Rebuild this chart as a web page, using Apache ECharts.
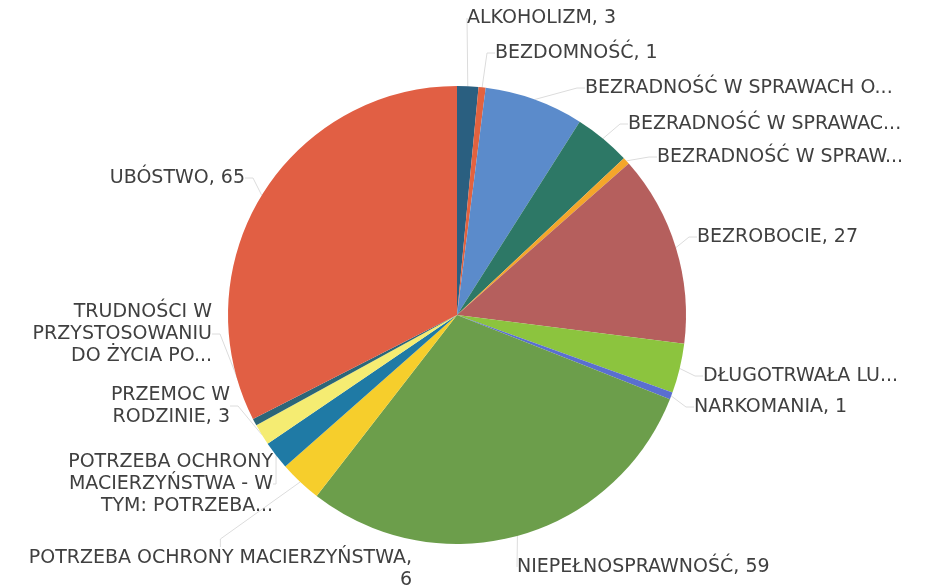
<!DOCTYPE html>
<html>
<head>
<meta charset="utf-8">
<script src="https://cdn.jsdelivr.net/npm/echarts@6/dist/echarts.min.js"></script>
<style>
html,body{margin:0;padding:0;background:#fff}
#main{width:931px;height:587px}
</style>
</head>
<body>
<div id="main"></div>
<script>
// kategorie (tak jak widać na wykresie, obcięte etykiety z "...")
var names = [
	'ALKOHOLIZM',
	'BEZDOMNOŚĆ',
	'BEZRADNOŚĆ W SPRAWACH O...',
	'BEZRADNOŚĆ W SPRAWAC...',
	'BEZRADNOŚĆ W SPRAW...',
	'BEZROBOCIE',
	'DŁUGOTRWAŁA LU...',
	'NARKOMANIA',
	'NIEPEŁNOSPRAWNOŚĆ',
	'POTRZEBA OCHRONY MACIERZYŃSTWA',
	'POTRZEBA OCHRONY MACIERZYŃSTWA - W TYM: POTRZEBA...',
	'PRZEMOC W RODZINIE',
	'TRUDNOŚCI W PRZYSTOSOWANIU DO ŻYCIA PO...',
	'UBÓSTWO'
]
var values = [3, 1, 14, 8, 1, 27, 7, 1, 59, 6, 4, 3, 1, 65]
// etykiety tak jak na obrazku
var labelTexts = [
	'ALKOHOLIZM, 3',
	'BEZDOMNOŚĆ, 1',
	'BEZRADNOŚĆ W SPRAWACH O...',
	'BEZRADNOŚĆ W SPRAWAC...',
	'BEZRADNOŚĆ W SPRAW...',
	'BEZROBOCIE, 27',
	'DŁUGOTRWAŁA LU...',
	'NARKOMANIA, 1',
	'NIEPEŁNOSPRAWNOŚĆ, 59',
	'POTRZEBA OCHRONY MACIERZYŃSTWA,\n6',
	'POTRZEBA OCHRONY\nMACIERZYŃSTWA - W\nTYM: POTRZEBA...',
	'PRZEMOC W\nRODZINIE, 3',
	'TRUDNOŚCI W\nPRZYSTOSOWANIU\nDO ŻYCIA PO...',
	'UBÓSTWO, 65'
]
var colors = ['#2a5f80', '#e2623f', '#5b8bcb', '#2d7866', '#f4a62a', '#b55f5d', '#8cc43e',
	'#5a6fd0', '#6c9e4b', '#f6ce2c', '#1f7aa5', '#f5ec72', '#2c6678', '#e15f44']

// miejsca etykiet [x, y, wyrównanie]
var labelPos = [
	[467, 18, 'left'], [495, 53, 'left'], [585, 88, 'left'], [628, 124, 'left'],
	[657, 157, 'left'], [697, 237, 'left'], [703, 376, 'left'], [694, 407, 'left'],
	[517, 567, 'left'], [412, 569, 'right'], [273, 484, 'right'], [230, 406, 'right'],
	[212, 334, 'right'], [245, 178, 'right']
]

var chart = echarts.init(document.querySelector('#main'))
var seriesData = []
for (var i = 0; i < names.length; i++) {
	seriesData.push({name: names[i], value: values[i], itemStyle: {color: colors[i]}})
}
var option = {
	animation: false,
	series: [{
		type: 'pie',
		center: [457, 315],
		radius: 229,
		startAngle: 90,
		avoidLabelOverlap: false,
		data: seriesData,
		itemStyle: {borderWidth: 0},
		label: {
			show: true,
			position: 'outside',
			fontFamily: 'DejaVu Sans',
			fontSize: 19,
			lineHeight: 22,
			color: '#404040',
			formatter: function (p) {
				return labelTexts[p.dataIndex]
			}
		},
		labelLine: {
			show: true,
			length: 8,
			length2: 8,
			lineStyle: {color: '#dcdcdc', width: 1}
		},
		labelLayout: function (p) {
			var pos = labelPos[p.dataIndex]
			return {
				x: pos[0],
				y: pos[1],
				align: pos[2],
				verticalAlign: 'middle'
			}
		}
	}]
}
chart.setOption(option)
</script>
</body>
</html>
